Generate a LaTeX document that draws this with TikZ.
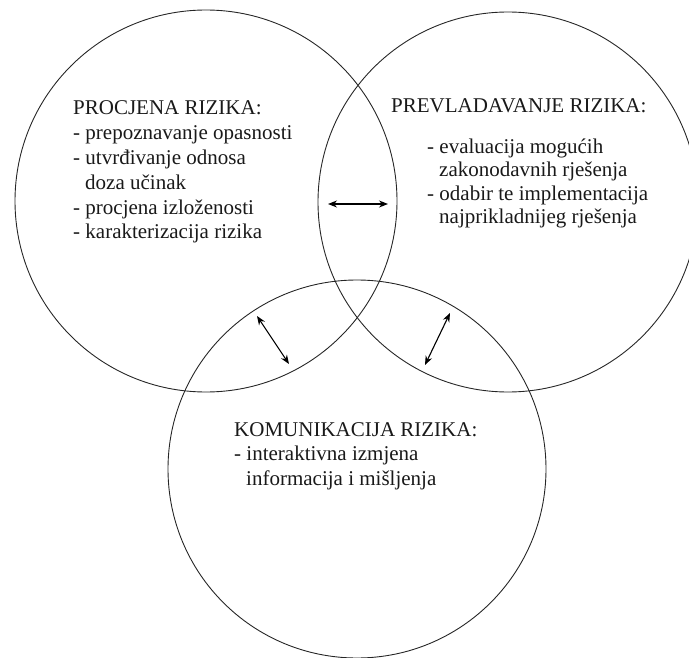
\documentclass[tikz,border=0pt]{standalone}
\usepackage{fontspec}
\setmainfont{Liberation Serif}
\usetikzlibrary{arrows.meta}
\begin{document}
\begin{tikzpicture}[x=1pt,y=-1pt,
  ring/.style={circle,draw=black!85,line width=0.9pt,inner sep=0pt},
  txt/.style={anchor=base west,inner sep=0pt,font=\fontsize{21}{25}\selectfont,text=black!90},
  dbl/.style={{Stealth[length=9pt,width=7pt]}-{Stealth[length=9pt,width=7pt]},line width=1.1pt,black}]
\useasboundingbox (0,0) rectangle (689,658);
\begin{scope}
\clip (0,0) rectangle (689,658);
\node[ring,minimum size=382pt] (L) at (206,201) {};
\node[ring,minimum size=380pt] (R) at (508,202) {};
\node[ring,minimum size=378pt] (B) at (357,469) {};
\end{scope}
% left block
\node[txt] (l0) at (73,115) {PROCJENA RIZIKA:};
\node[txt] (l1) at (73,140) {- prepoznavanje opasnosti};
\node[txt] (l2) at (73,165) {- utvrđivanje odnosa};
\node[txt] (l3) at (85,190) {doza učinak};
\node[txt] (l4) at (73,215) {- procjena izloženosti};
\node[txt] (l5) at (73,239) {- karakterizacija rizika};
% right block
\node[txt] (r0) at (391,113) {PREVLADAVANJE RIZIKA:};
\node[txt] (r1) at (427,154) {- evaluacija mogućih};
\node[txt] (r2) at (439,177) {zakonodavnih rješenja};
\node[txt] (r3) at (427,201) {- odabir te implementacija};
\node[txt] (r4) at (439,224) {najprikladnijeg rješenja};
% bottom block
\node[txt] (b0) at (234,436) {KOMUNIKACIJA RIZIKA:};
\node[txt] (b1) at (234,460) {- interaktivna izmjena};
\node[txt] (b2) at (246,485) {informacija i mišljenja};
% arrows
\coordinate (h1) at (328,204);
\coordinate (h2) at (388,204);
\coordinate (d1) at (257,316);
\coordinate (d2) at (289,364);
\coordinate (e1) at (450,313);
\coordinate (e2) at (425,365);
\draw[dbl] (h1) -- (h2);
\draw[dbl] (d1) -- (d2);
\draw[dbl] (e1) -- (e2);
\end{tikzpicture}
\end{document}
